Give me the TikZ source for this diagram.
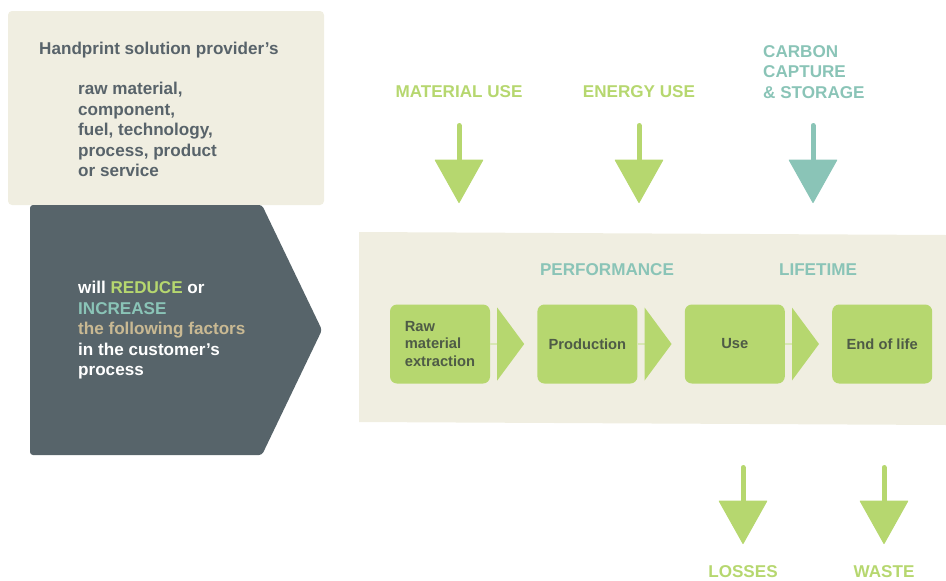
\documentclass[tikz,border=0pt]{standalone}
\usepackage{fontspec}
\setmainfont{Liberation Sans}
\usetikzlibrary{positioning,arrows.meta,calc}
\definecolor{leaf}{HTML}{B6D76F}
\definecolor{sea}{HTML}{8AC4B7}
\definecolor{sand}{HTML}{F0EEE1}
\definecolor{slate}{HTML}{57646A}
\definecolor{factortan}{HTML}{C9B993}
\definecolor{inktext}{HTML}{58636A}
\definecolor{boxtext}{HTML}{4E5B46}
\definecolor{joint}{HTML}{D8E7B3}
\tikzset{
	stagebox/.style={rectangle, rounded corners=7pt, fill=leaf, text=boxtext, minimum width=100pt, minimum height=79pt, inner sep=0pt, align=left, font=\fontsize{14.7}{17.7}\selectfont\bfseries},
	biglabel/.style={inner sep=0pt, align=left, font=\fontsize{17.1}{20.6}\selectfont\bfseries},
	flowarrow/.style={line width=5pt, line cap=round, -{Triangle[length=44pt,width=49pt,line width=1pt,round]}},
}
\begin{document}
\begin{tikzpicture}[x=1pt,y=-1pt]
				\useasboundingbox (0,0) rectangle (946,581);
				% provider box and the dark arrow
				\fill[sand, rounded corners=4pt] (8,11) rectangle (324,205);
				\fill[slate, rounded corners=3pt] (30,205) -- (262,205) -- (322,330) -- (262,455) -- (30,455) -- cycle;
				\node [biglabel, text=inktext, anchor=north west] (provider) at (39,42) {Handprint solution provider’s};
				\node [biglabel, text=inktext, anchor=north west] (offer) at (78,82) {raw material,\\component,\\fuel, technology,\\process, product\\or service};
				\node [biglabel, text=white, anchor=north west] (effect) at (78,281) {will \textcolor{leaf}{REDUCE} or\\\textcolor{sea}{INCREASE}\\\textcolor{factortan}{the following factors}\\in the customer’s\\process};
				% customer's process
				\fill[sand] (359,232) -- (946,235) -- (946,425) -- (359,422) -- cycle;
				\node [biglabel, text=sea] (perf) at (607,270) {PERFORMANCE};
				\node [biglabel, text=sea] (life) at (818,270) {LIFETIME};
				\node [stagebox] (raw) at (440,344) {Raw\\material\\extraction};
				\node [stagebox, right=47pt of raw] (prod) {Production};
				\node [stagebox, right=47pt of prod] (use) {Use};
				\node [stagebox, right=47pt of use] (eol) {End of life};
				\foreach \s in {raw,prod,use}{
					\draw [joint, line width=1.5pt] (\s.east) -- ++(10,0);
					\fill [leaf] ($(\s.east)+(7,-36.5)$) -- ++(27,36.5) -- ++(-27,36.5) -- cycle;
				}
				% inputs
				\node [biglabel, text=leaf] (matlabel) at (459,92) {MATERIAL USE};
				\node [biglabel, text=leaf] (enlabel) at (639,92) {ENERGY USE};
				\node [biglabel, text=sea, anchor=north west] (ccslabel) at (763,45) {CARBON\\CAPTURE\\\& STORAGE};
				\coordinate (M1) at (459,125.5);
				\coordinate (M2) at (459,203);
				\coordinate (E1) at (639,125.5);
				\coordinate (E2) at (639,203);
				\coordinate (C1) at (813,125.5);
				\coordinate (C2) at (813,203);
				\draw [flowarrow, leaf] (M1) -- (M2);
				\draw [flowarrow, leaf] (E1) -- (E2);
				\draw [flowarrow, sea] (C1) -- (C2);
				% outputs
				\coordinate (L1) at (743,467.5);
				\coordinate (L2) at (743,544);
				\coordinate (W1) at (884,467.5);
				\coordinate (W2) at (884,544);
				\draw [flowarrow, leaf] (L1) -- (L2);
				\draw [flowarrow, leaf] (W1) -- (W2);
				\node [biglabel, text=leaf] (losslabel) at (743,572) {LOSSES};
				\node [biglabel, text=leaf] (wastelabel) at (884,572) {WASTE};
			\end{tikzpicture}
\end{document}
